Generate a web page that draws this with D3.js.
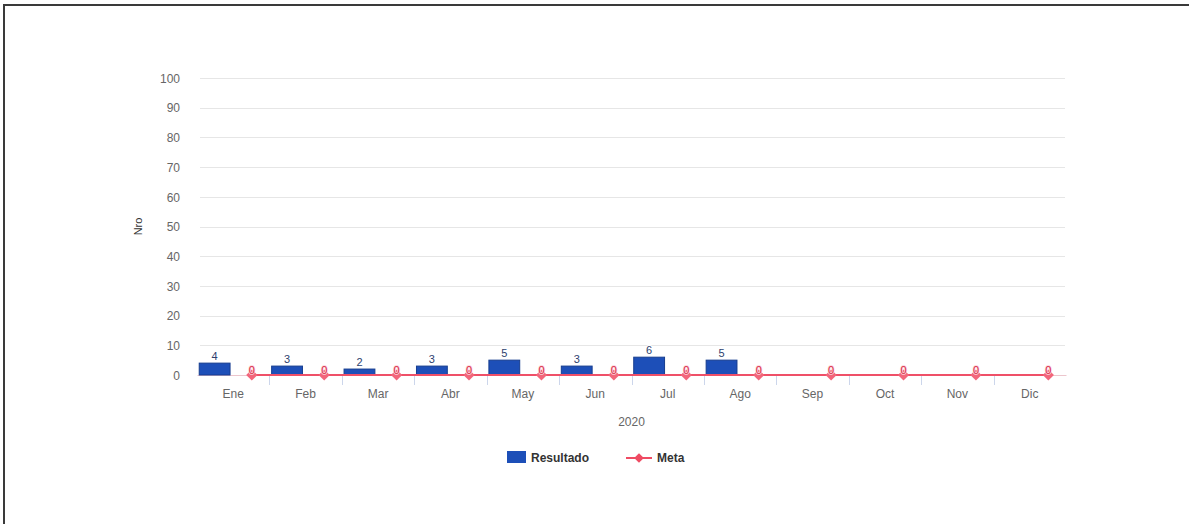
<!DOCTYPE html>
<html>
<head>
<meta charset="utf-8">
<script src="https://cdn.jsdelivr.net/npm/d3@7"></script>
<style>
html,body{margin:0;padding:0;background:#fff;}
svg{display:block;font-family:"Liberation Sans",Arial,sans-serif;}
</style>
</head>
<body>
<svg id="chart" width="1189" height="524"></svg>
<script>
const months = ["Ene","Feb","Mar","Abr","May","Jun","Jul","Ago","Sep","Oct","Nov","Dic"];
const resultado = [4,3,2,3,5,3,6,5,null,null,null,null];
const meta = [0,0,0,0,0,0,0,0,0,0,0,0];
const yTicks = [0,10,20,30,40,50,60,70,80,90,100];
const seriesNames = ["Resultado","Meta"];
const xTitle = "2020";
const yTitle = "Nro";

(function(){
const svg = d3.select("#chart");
const W = 1189, H = 524;

// frame (top and left border)
svg.append("line").attr("x1",4).attr("x2",W).attr("y1",5).attr("y2",5).attr("stroke","#3a3a3a").attr("stroke-width",2);
svg.append("line").attr("x1",4).attr("x2",4).attr("y1",4).attr("y2",H).attr("stroke","#3a3a3a").attr("stroke-width",2);

const pL = 197, pR = 1066, pT = 78, pB = 375;
const x = d3.scaleBand().domain(months).range([pL, pR]).padding(0);
const xs = d3.scaleBand().domain(seriesNames).range([0, x.bandwidth()]).paddingInner(0.17).paddingOuter(0.06);
const y = d3.scaleLinear().domain([0,100]).range([pB, pT]);

// gridlines
svg.append("g").selectAll("line").data(yTicks.filter(d=>d>0)).join("line")
  .attr("x1",pL+3).attr("x2",pR-1)
  .attr("y1",d=>Math.round(y(d))+0.5).attr("y2",d=>Math.round(y(d))+0.5)
  .attr("stroke","#e6e6e6").attr("stroke-width",1);

// y axis labels
const yAxis = d3.axisLeft(y).tickValues(yTicks).tickSize(0).tickPadding(0);
const gy = svg.append("g").attr("transform",`translate(${pL-17},0)`).call(yAxis);
gy.select(".domain").remove();
gy.selectAll("text").attr("fill","#666").attr("font-size","12px").attr("dy","0.35em");

// y title
svg.append("text").attr("transform",`translate(142,${(pT+pB)/2}) rotate(-90)`)
  .attr("text-anchor","middle").attr("font-size","11px").attr("fill","#333").text(yTitle);

// x axis
const xAxis = d3.axisBottom(x).tickSize(0).tickPadding(14);
const gx = svg.append("g").attr("transform",`translate(0,${pB})`).call(xAxis);
gx.select(".domain").attr("stroke","#ecc6cd").attr("stroke-width",1);
gx.selectAll("text").attr("fill","#666").attr("font-size","12px");
// band boundary ticks
svg.append("g").selectAll("line").data(months.slice(1)).join("line")
  .attr("x1",d=>Math.round(x(d))+0.5).attr("x2",d=>Math.round(x(d))+0.5)
  .attr("y1",pB).attr("y2",pB+10).attr("stroke","#ccd6eb");

svg.append("text").attr("x",(pL+pR)/2).attr("y",pB+51).attr("text-anchor","middle")
  .attr("font-size","12px").attr("fill","#666").text(xTitle);

// bars
const barData = months.map((m,i)=>({m, v: resultado[i]})).filter(d=>d.v!==null);
svg.append("g").selectAll("rect").data(barData).join("rect")
  .attr("x",d=>x(d.m)+xs("Resultado"))
  .attr("width",xs.bandwidth())
  .attr("y",d=>y(d.v))
  .attr("height",d=>pB-y(d.v))
  .attr("fill","#1d4fb8").attr("stroke","#163d8f").attr("stroke-width",1);

svg.append("g").selectAll("text").data(barData).join("text")
  .attr("x",d=>x(d.m)+xs("Resultado")+xs.bandwidth()/2)
  .attr("y",d=>y(d.v)-3)
  .attr("text-anchor","middle").attr("font-size","11px").attr("fill","#2e3f6e")
  .attr("stroke","#fff").attr("stroke-width",2).attr("paint-order","stroke")
  .text(d=>d.v);

// meta line
const metaData = months.map((m,i)=>({m, v: meta[i]}));
const mx = d=>x(d.m)+xs("Meta")+xs.bandwidth()/2;
svg.append("path").datum(metaData)
  .attr("d",d3.line().x(mx).y(d=>y(d.v)))
  .attr("fill","none").attr("stroke","#ef5068").attr("stroke-width",2);
svg.append("g").selectAll("path").data(metaData).join("path")
  .attr("transform",d=>`translate(${mx(d)},${y(d.v)})`)
  .attr("d",d3.symbol(d3.symbolDiamond2,80)())
  .attr("fill","#f2667b");
svg.append("g").selectAll("text").data(metaData).join("text")
  .attr("x",mx).attr("y",d=>y(d.v)-1)
  .attr("text-anchor","middle").attr("font-size","11px").attr("fill","#d92a46")
  .attr("stroke","#fbd3da").attr("stroke-width",1.5).attr("paint-order","stroke")
  .text(d=>d.v);

// legend
const lg = svg.append("g");
lg.append("rect").attr("x",507).attr("y",451).attr("width",19).attr("height",12).attr("fill","#1d4fb8");
lg.append("text").attr("x",531).attr("y",462).attr("font-size","12px").attr("font-weight","bold").attr("fill","#333").text(seriesNames[0]);
lg.append("line").attr("x1",626).attr("x2",652).attr("y1",458).attr("y2",458).attr("stroke","#ef4b63").attr("stroke-width",2);
lg.append("path").attr("transform","translate(639,458)").attr("d",d3.symbol(d3.symbolDiamond2,60)()).attr("fill","#ef4b63");
lg.append("text").attr("x",657).attr("y",462).attr("font-size","12px").attr("font-weight","bold").attr("fill","#333").text(seriesNames[1]);
})();
</script>
</body>
</html>
